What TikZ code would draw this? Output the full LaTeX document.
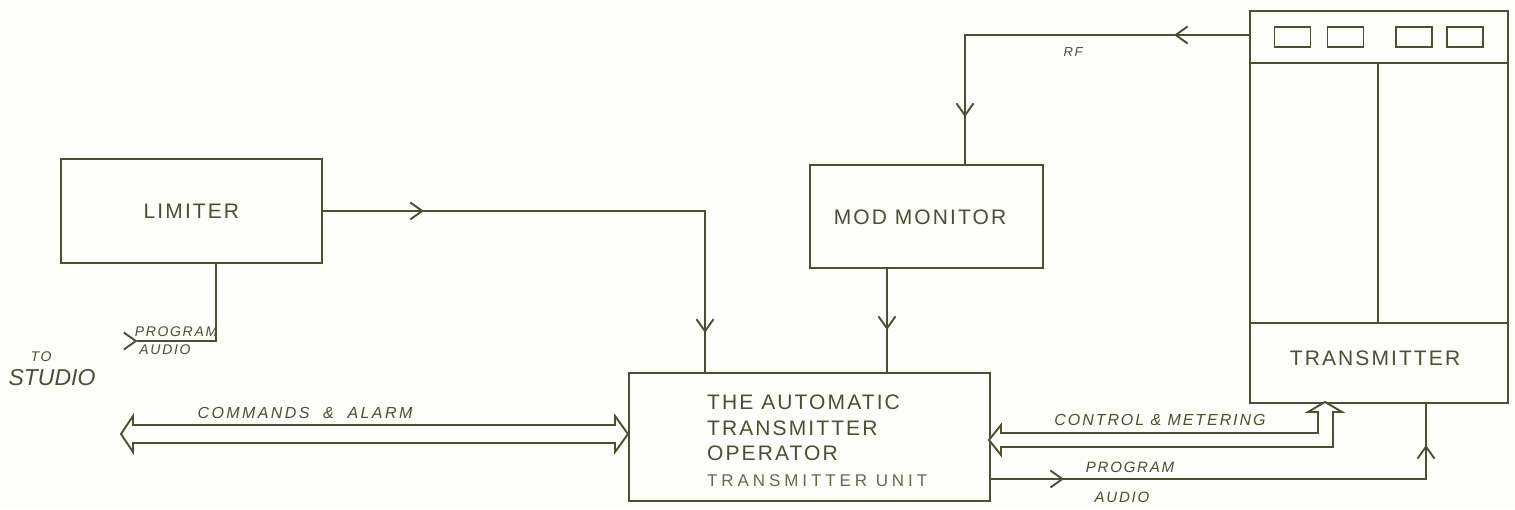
\documentclass[tikz,border=0pt]{standalone}
\usepackage{fontspec}
\setmainfont{Liberation Sans}
\newfontfamily\boxfont[LetterSpace=10]{Liberation Sans}
\newfontfamily\unitfont[LetterSpace=23]{Liberation Sans}
\newfontfamily\tagfont[LetterSpace=12]{Liberation Sans}
\newfontfamily\widetagfont[LetterSpace=15]{Liberation Sans}
\usetikzlibrary{arrows.meta,decorations.markings,calc}

\definecolor{ink}{RGB}{78,78,52}
\definecolor{inksoft}{RGB}{105,105,80}
\definecolor{paper}{RGB}{253,253,250}

\tikzset{
  chev/.tip={Straight Barb[length=12pt,width=17pt]},
  wire/.style={draw=ink, line width=1.9pt},
  blk/.style={draw=ink, line width=1.9pt, rectangle, inner sep=0pt},
  lamp/.style={draw=ink, line width=1.4pt, rectangle, inner sep=0pt,
               minimum width=36pt, minimum height=20pt},
  bigtext/.style={text=ink, inner sep=0pt, font=\boxfont\fontsize{21}{21}\selectfont},
  tag/.style={text=ink, inner sep=0pt, font=\tagfont\itshape\fontsize{#1}{#1}\selectfont},
  tag/.default=15,
  bus/.style={draw=ink, line width=1.9pt, fill=paper, line join=miter},
}

\begin{document}
\begin{tikzpicture}[x=1pt, y=-1pt]
  \useasboundingbox[fill=paper] (0,0) rectangle (1515,509);

  % ---- blocks ----
  \node[blk, bigtext, minimum width=261pt, minimum height=104pt, anchor=north west]
       (lim) at (60,158) {LIMITER};
  \node[blk, minimum width=233pt, minimum height=103pt, anchor=north west]
       (mod) at (809,164) {};
  \node[bigtext] (modlabel) at (920,217) {MOD MONITOR};
  \node[blk, minimum width=361pt, minimum height=128pt, anchor=north west]
       (ato) at (628,372) {};
  \node[bigtext, anchor=base west] (atoL1) at (707,409.5) {THE AUTOMATIC};
  \node[bigtext, anchor=base west] (atoL2) at (707,435.5) {TRANSMITTER};
  \node[bigtext, anchor=base west] (atoL3) at (707,460.5) {OPERATOR};
  \node[text=inksoft, inner sep=0pt, anchor=base west,
        font=\unitfont\fontsize{17}{17}\selectfont] (atoL4) at (707,486) {TRANSMITTER UNIT};

  % ---- transmitter cabinet ----
  \node[blk, minimum width=258pt, minimum height=392pt, anchor=north west]
       (tx) at (1249,10) {};
  \draw[wire] (1249,63) -- (1507,63);
  \draw[wire] (1249,323) -- (1507,323);
  \draw[wire] (1378,63) -- (1378,323);
  \node[lamp] (lamp1) at (1292.5,37) {};
  \node[lamp] (lamp2) at (1345.5,37) {};
  \node[lamp] (lamp3) at (1414,37) {};
  \node[lamp] (lamp4) at (1465,37) {};
  \node[bigtext] (txlabel) at (1375,358) {TRANSMITTER};

  % ---- connection points ----
  \coordinate (atoA) at (705,372);
  \coordinate (modB) at (887,267);
  \coordinate (atoB) at (887,372);
  \coordinate (rfOut) at (1249,35);
  \coordinate (modT) at (965,164);
  \coordinate (limB) at (216,262);
  \coordinate (audioIn) at (137,341);
  \coordinate (atoP) at (989,479);
  \coordinate (txP) at (1426,402);
  \coordinate (studioEnd) at (121,434);
  \coordinate (atoW) at (628,434);
  \coordinate (atoE) at (989,440);
  \coordinate (txM) at (1325,402);

  % ---- single-line signal paths ----
  \draw[wire, postaction={decorate}, decoration={markings,
        mark=at position 101pt with {\arrow{chev}},
        mark=at position 504pt with {\arrow{chev}}}]
       (lim.east) -| (atoA);
  \draw[wire, postaction={decorate}, decoration={markings,
        mark=at position 63pt with {\arrow{chev}}}]
       (modB) -- (atoB);
  \draw[wire, postaction={decorate}, decoration={markings,
        mark=at position 75pt with {\arrow{chev}},
        mark=at position 366pt with {\arrow{chev}}}]
       (rfOut) -| (modT);
  \draw[wire, postaction={decorate}, decoration={markings,
        mark=at position 0.5pt with {\arrow{chev}}}]
       (audioIn) -| (limB);
  \draw[wire, postaction={decorate}, decoration={markings,
        mark=at position 75pt with {\arrow{chev}},
        mark=at position 471pt with {\arrow{chev}}}]
       (atoP) -| (txP);

  % ---- wide two-way buses ----
  \draw[bus] (studioEnd) -- ++(12,-18) -- ++(0,9) -- ($(atoW)+(-13,-9)$)
       -- ++(0,-9) -- (atoW) -- ++(-13,18) -- ++(0,-9) -- ($(studioEnd)+(12,9)$)
       -- ++(0,9) -- cycle;
  \draw[bus] (atoE) -- ++(12,-15) -- ++(0,8) -- (1318,433) -- (1318,412)
       -- (1308,412) -- (txM) -- (1342,412) -- (1333,412) -- (1333,447)
       -- (1001,447) -- (1001,455) -- cycle;

  % ---- labels ----
  \node[tag=13] (lblRF) at (1073,52) {RF};
  \node[tag=16] (lblCM) at (1160,420) {CONTROL \& METERING};
  \node[tag=15] (lblPG) at (1130,467) {PROGRAM};
  \node[tag=15] (lblAU) at (1122,497) {AUDIO};
  \node[text=ink, inner sep=0pt, font=\widetagfont\itshape\fontsize{16}{16}\selectfont]
       (lblCA) at (305,413) {COMMANDS \ \& \ ALARM};
  \node[tag=14] (lblPG2) at (176,332) {PROGRAM};
  \node[tag=14] (lblAU2) at (165,350) {AUDIO};
  \node[tag=14] (lblTO) at (41,357) {TO};
  \node[text=ink, inner sep=0pt, font=\itshape\fontsize{23}{23}\selectfont] (lblST) at (52,378) {STUDIO};
\end{tikzpicture}
\end{document}
